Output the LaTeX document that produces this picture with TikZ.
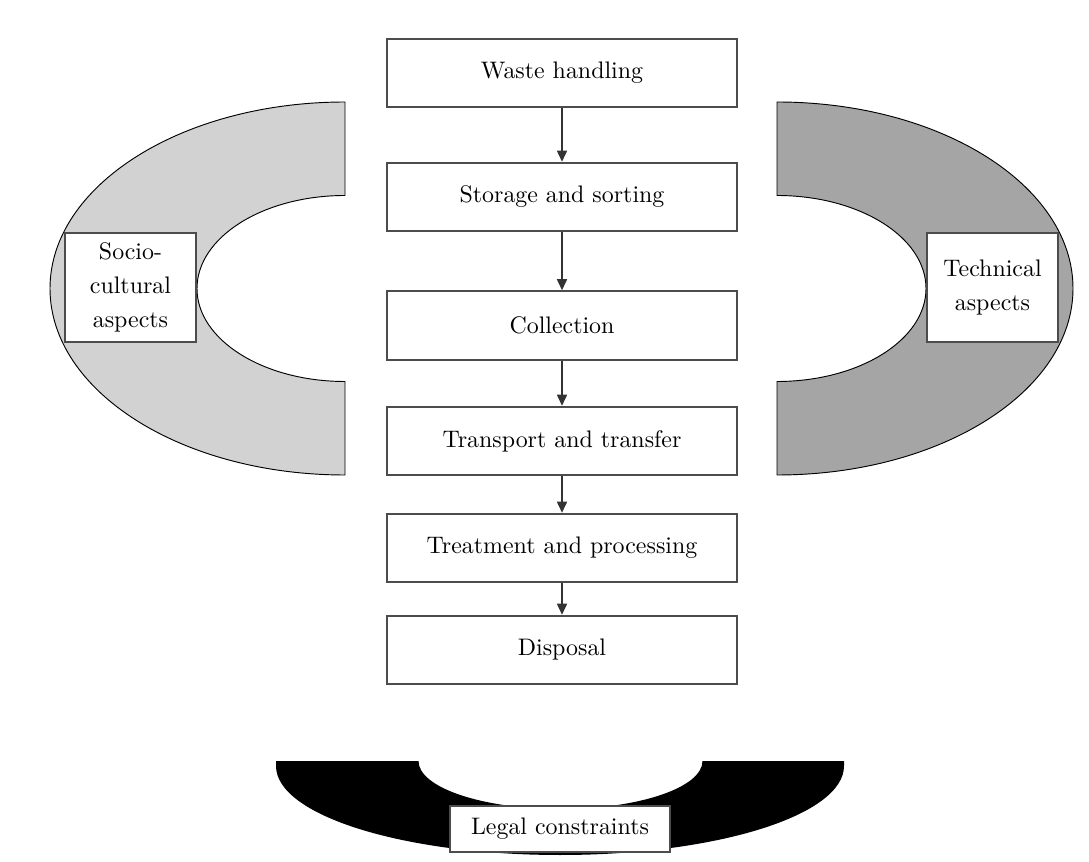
\documentclass[tikz,border=0pt]{standalone}
\usepackage{tikz}
\usetikzlibrary{shapes}
\usetikzlibrary{arrows.meta}

\definecolor{socgray}{RGB}{210,210,210}
\definecolor{tecgray}{RGB}{165,165,165}

\begin{document}
\begin{tikzpicture}[x=0.015cm,y=0.015cm]
  \useasboundingbox (0,0) rectangle (1089,861);

%% half rings behind the boxes
  \path[fill=socgray,draw=black,line width=0.4pt]
    (345,759) arc[start angle=90,end angle=270,x radius=295,y radius=186.5]
    -- (345,479.5) arc[start angle=270,end angle=90,x radius=148,y radius=93] -- cycle;
  \path[fill=tecgray,draw=black,line width=0.4pt]
    (777,759) arc[start angle=90,end angle=-90,x radius=296,y radius=186.5]
    -- (777,479.5) arc[start angle=-90,end angle=90,x radius=149,y radius=93] -- cycle;
  \path[fill=black]
    (276,100) -- (276,95) arc[start angle=180,end angle=360,x radius=284,y radius=89]
    -- (844,100) -- (702.5,100) arc[start angle=0,end angle=-180,x radius=142,y radius=48] -- cycle;

%% chain of steps
  \tikzstyle{every node}=[rectangle,draw=black!70,line width=0.8pt,fill=white,font=\fontsize{10.2}{14.5}\selectfont]
  \newcommand{\mybw}{5.25cm}
  \newcommand{\mybh}{1.03cm}
  \node[minimum width=\mybw,minimum height=\mybh] (waste)      at (562,788)   {Waste handling};
  \node[minimum width=\mybw,minimum height=\mybh] (storage)    at (562,664)   {Storage and sorting};
  \node[minimum width=\mybw,minimum height=\mybh] (collection) at (562,535.5) {Collection};
  \node[minimum width=\mybw,minimum height=\mybh] (transport)  at (562,420)   {Transport and transfer};
  \node[minimum width=\mybw,minimum height=\mybh] (treatment)  at (562,313)   {Treatment and processing};
  \node[minimum width=\mybw,minimum height=\mybh] (disposal)   at (562,211)   {Disposal};

%% aspect labels
  \node[minimum width=1.965cm,minimum height=1.635cm,align=center] (socio)     at (130.5,573.5) {Socio-\\cultural\\aspects};
  \node[minimum width=1.965cm,minimum height=1.635cm,align=center] (technical) at (992.5,573.5) {Technical\\aspects};
  \node[minimum width=3.3cm,minimum height=0.69cm] (legal) at (560,32) {Legal constraints};

%% draw connections
  \foreach \a/\b in {waste/storage, storage/collection, collection/transport,
                     transport/treatment, treatment/disposal}
    \draw[-{Triangle[length=4.7pt,width=4.3pt]},black!80,line width=0.6pt] (\a) -- (\b);
\end{tikzpicture}
\end{document}
